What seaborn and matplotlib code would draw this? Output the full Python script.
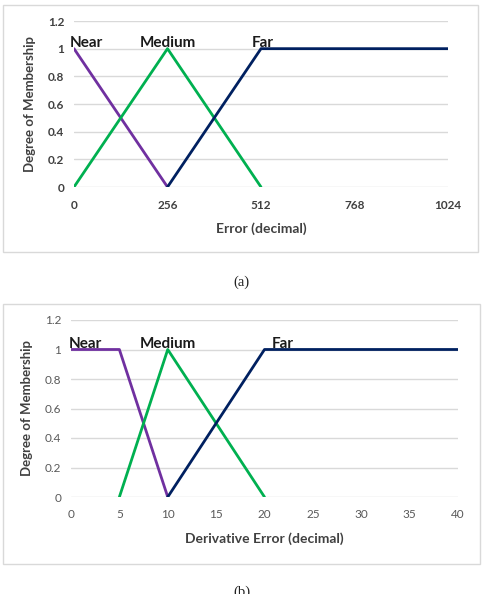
import matplotlib
matplotlib.use("Agg")
import matplotlib.pyplot as plt
import seaborn as sns
import pandas as pd
from matplotlib.patches import Rectangle

# Data - chart (a): error
err_near_x = [0, 256]
err_near_y = [1, 0]
err_med_x = [0, 256, 512]
err_med_y = [0, 1, 0]
err_far_x = [256, 512, 1024]
err_far_y = [0, 1, 1]
err_ticks = [0, 256, 512, 768, 1024]

# Data - chart (b): derivative error
der_near_x = [0, 5, 10]
der_near_y = [1, 1, 0]
der_med_x = [5, 10, 20]
der_med_y = [0, 1, 0]
der_far_x = [10, 20, 40]
der_far_y = [0, 1, 1]
der_ticks = [0, 5, 10, 15, 20, 25, 30, 35, 40]

y_ticks = [0, 0.2, 0.4, 0.6, 0.8, 1, 1.2]
set_names = ["Near", "Medium", "Far"]
colors = {"Near": "#7030A0", "Medium": "#00B050", "Far": "#002060"}

sns.set_theme(style="white")
plt.rcParams['font.family'] = ['Lato', 'DejaVu Sans']

fig = plt.figure(figsize=(4.83, 5.94), dpi=100)


def make_df(xs, ys):
    rows = []
    for name, x, y in zip(set_names, xs, ys):
        for a, b in zip(x, y):
            rows.append({"x": a, "y": b, "set": name})
    return pd.DataFrame(rows)


def draw(ax, df, ticks, xlabel, bold_ticks, label_pos):
    sns.lineplot(data=df, x="x", y="y", hue="set", palette=colors, ax=ax,
                 linewidth=2, legend=False, sort=False, estimator=None)
    ax.set_xlim(ticks[0], ticks[-1])
    ax.set_ylim(0, 1.2)
    ax.set_xticks(ticks)
    ax.set_yticks(y_ticks)
    ax.set_yticklabels([f"{v:g}" for v in y_ticks])
    ax.grid(axis="y", color="#d9d9d9", linewidth=1)
    ax.grid(axis="x", visible=False)
    for s in ax.spines.values():
        s.set_visible(False)
    tick_col = "#404040" if bold_ticks else "#595959"
    ax.tick_params(axis="both", length=0, labelsize=8.5, colors=tick_col)
    ax.tick_params(axis="x", pad=9)
    ax.tick_params(axis="y", pad=7)
    if bold_ticks:
        for t in ax.get_xticklabels() + ax.get_yticklabels():
            t.set_fontweight("bold")
    ax.set_xlabel(xlabel, fontsize=10, fontweight="bold", color="#404040")
    ax.set_ylabel("Degree of Membership", fontsize=9.5, fontweight="bold", color="#404040")
    for name, (x, ha) in zip(set_names, label_pos):
        ax.text(x, 0.99, name, fontsize=11, fontweight="bold", ha=ha, va="bottom",
                color="#1a1a1a")


# frames around each chart
fig.patches.append(Rectangle((3 / 483, 1 - 252 / 594), 475 / 483, 247 / 594,
                             transform=fig.transFigure, fill=False,
                             edgecolor="#d9d9d9", linewidth=1))
fig.patches.append(Rectangle((3 / 483, 1 - 564 / 594), 477 / 483, 260 / 594,
                             transform=fig.transFigure, fill=False,
                             edgecolor="#d9d9d9", linewidth=1))

ax1 = fig.add_axes([74 / 483, 1 - 187 / 594, 374 / 483, 166 / 594])
draw(ax1, make_df([err_near_x, err_med_x, err_far_x], [err_near_y, err_med_y, err_far_y]),
     err_ticks, "Error (decimal)", True,
     [(-12, "left"), (256, "center"), (486, "left")])
ax1.yaxis.set_label_coords(-0.102, 0.5)
ax1.xaxis.set_label_coords(0.5, -0.21)

ax2 = fig.add_axes([71 / 483, 1 - 497 / 594, 387 / 483, 177 / 594])
draw(ax2, make_df([der_near_x, der_med_x, der_far_x], [der_near_y, der_med_y, der_far_y]),
     der_ticks, "Derivative Error (decimal)", False,
     [(-0.2, "left"), (10, "center"), (20.7, "left")])
ax2.yaxis.set_label_coords(-0.098, 0.5)
ax2.xaxis.set_label_coords(0.5, -0.198)

fig.text(0.5, 1 - 282 / 594, "(a)", ha="center", va="center", fontsize=10.5,
         family=["Liberation Serif", "DejaVu Serif"], color="#222222")
fig.text(0.5, 1 - 592 / 594, "(b)", ha="center", va="center", fontsize=10.5,
         family=["Liberation Serif", "DejaVu Serif"], color="#222222")

fig.savefig("out.png", dpi=100)
